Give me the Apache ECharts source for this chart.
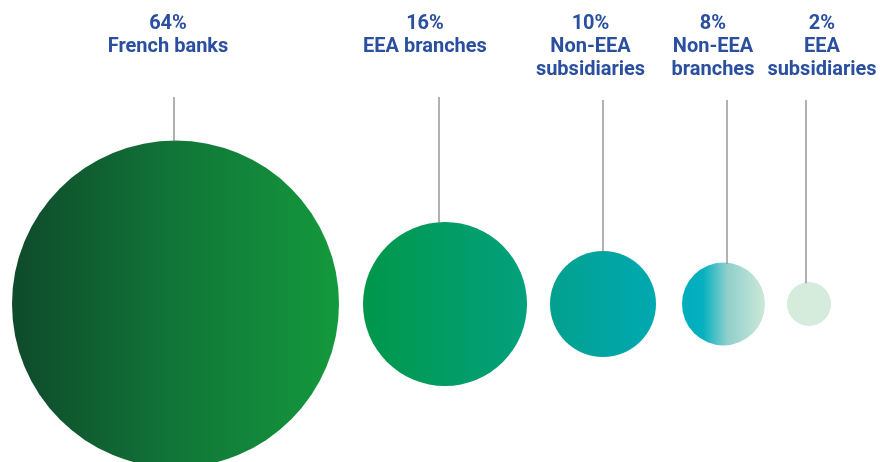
<!DOCTYPE html>
<html>
<head>
<meta charset="utf-8">
<script src="https://cdn.jsdelivr.net/npm/echarts@6/dist/echarts.min.js"></script>
<style>
html,body{margin:0;padding:0;background:#fff;}
#main{width:880px;height:462px;}
</style>
</head>
<body>
<div id="main"></div>
<script>
// ---- data ----
const categories = ['French banks', 'EEA branches', 'Non-EEA\nsubsidiaries', 'Non-EEA\nbranches', 'EEA\nsubsidiaries'];
const shares = [64, 16, 10, 8, 2];

// ---- layout / style (not data) ----
const diameters = [327, 164, 106, 83, 44];
const gaps = [24, 23, 26, 22];
const startLeft = 12;
const centerY = 304;
const lineOffsets = [-1.5, -6, 0, 3.5, -3];
const lineTops = [97, 97, 100, 100, 100];
const labelOffsets = [-7.5, -20, -12.5, -10.5, 13];
const labelTop = 12;
const gradients = [
  [[0, '#0f4a2b'], [0.5, '#117538'], [1, '#14993d']],
  [[0, '#00974a'], [1, '#03a17d']],
  [[0, '#03a08d'], [1, '#00a9b1']],
  [[0, '#00adbe'], [0.25, '#05b0bf'], [0.55, '#90d0cc'], [1, '#cce8d8']],
  [[0, '#d5ebdb'], [1, '#d5ebdb']]
];

// centers derived from sizes
const centers = [];
let left = startLeft;
diameters.forEach((d, i) => {
  centers.push(left + d / 2);
  left += d + (gaps[i] || 0);
});
const seriesData = shares.map((v, i) => [centers[i], centerY, v]);

const chart = echarts.init(document.getElementById('main'), null, {renderer: 'canvas'});
chart.setOption({
  animation: false,
  grid: {left: 0, right: 0, top: 0, bottom: 0},
  xAxis: {type: 'value', min: 0, max: 880, show: false},
  yAxis: {type: 'value', min: 0, max: 462, inverse: true, show: false},
  series: [{
    type: 'custom',
    data: seriesData,
    renderItem: function (params, api) {
      const i = params.dataIndex;
      const c = api.coord([api.value(0), api.value(1)]);
      const r = api.size([diameters[i], 0])[0] / 2;
      const dx = lineOffsets[i];
      const lx = c[0] + dx;
      const lTop = api.coord([api.value(0), lineTops[i]])[1];
      const lBottom = c[1] - Math.sqrt(Math.max(r * r - dx * dx, 0));
      const tTop = api.coord([api.value(0), labelTop])[1];
      return {
        type: 'group',
        children: [
          {
            type: 'circle',
            shape: {cx: c[0], cy: c[1], r: r},
            style: {
              fill: {
                type: 'linear', x: 0, y: 0, x2: 1, y2: 0,
                colorStops: gradients[i].map(s => ({offset: s[0], color: s[1]}))
              }
            }
          },
          {
            type: 'line',
            shape: {x1: lx, y1: lTop, x2: lx, y2: lBottom + 1},
            style: {stroke: '#7d7d7d', lineWidth: 1.2}
          },
          {
            type: 'text',
            x: c[0] + labelOffsets[i],
            y: tTop,
            style: {
              text: api.value(2) + '%\n' + categories[i],
              fill: '#2a4f9e',
              font: 'bold 20px Roboto',
              lineHeight: 23,
              align: 'center',
              verticalAlign: 'top'
            }
          }
        ]
      };
    }
  }]
});
</script>
</body>
</html>
